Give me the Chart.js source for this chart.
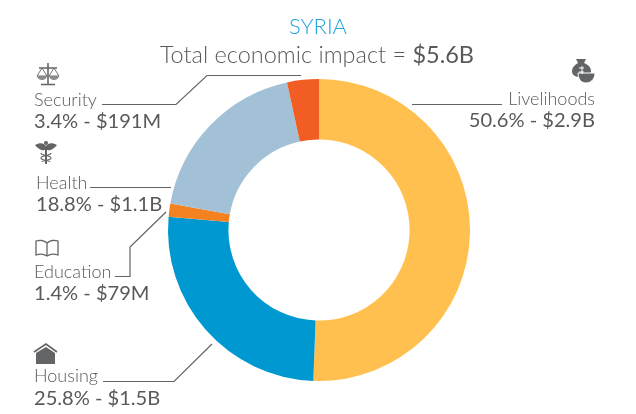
<!DOCTYPE html>
<html>
<head>
<meta charset="utf-8">
<script src="https://cdn.jsdelivr.net/npm/chart.js@4/dist/chart.umd.min.js"></script>
<style>
  html, body { margin:0; padding:0; background:#fff; }
  #wrap { position:relative; width:636px; height:414px; overflow:hidden; font-family:Lato, sans-serif; color:#58595B; }
  #chart { position:absolute; left:0; top:0; }
  #lines { position:absolute; left:0; top:0; }
  .t { position:absolute; white-space:nowrap; line-height:1; }
  .name { font-size:18px; font-weight:300; }
  .val { font-size:20.100px; font-weight:400; }
</style>
</head>
<body>
<div id="wrap">
  <canvas id="chart" width="636" height="414"></canvas>
  <svg id="lines" width="636" height="414" fill="none" stroke="#636466" stroke-width="1.200">
    <!-- leader lines -->
    <path d="M102 104.500H176L207 75.500H301"/>
    <path d="M90 187.500H171"/>
    <path d="M115 276.500H130V247L166 212"/>
    <path d="M103 381.500H174L212 344"/>
    <path d="M412 104.500H502"/>
    <!-- scales -->
    <path d="M48 63V84M41 84.500H55M39 68H57" stroke-width="1.600"/>
    <path d="M42 68L37 76H47ZM54 68L49 76H59Z" stroke-width="0.900"/>
    <path d="M37 76a5 4 0 0 0 10 0zM49 76a5 4 0 0 0 10 0z" fill="#8a8b8d" stroke="none"/>
    <!-- caduceus -->
    <g fill="#636466" stroke="none">
      <path d="M35 145C40 142 44 143 46 146C48 143 52 142 57 145C54 149 50 151 47.500 150H44.500C42 151 38 149 35 145Z"/>
      <circle cx="46" cy="143" r="2"/>
      <rect x="45" y="146" width="2" height="18"/>
    </g>
    <path d="M41 153C41 156 51 155 51 158C51 161 42 160 42 162" stroke-width="1.200"/>
    <path d="M51 153C51 156 41 155 41 158C41 161 50 160 50 162" stroke-width="1.200"/>
    <!-- book -->
    <path d="M47 243C44 240 39 240 36 241V255C39 254 44 254 47 256C50 254 55 254 58 255V241C55 240 50 240 47 243ZM47 243V256" stroke-width="1.300"/>
    <!-- house -->
    <path d="M34 352L46 344L57 352" stroke-width="1.600"/>
    <path d="M36 353L46 347L55 353V364H36Z" fill="#636466" stroke="none"/>
    <!-- money bag and bowl -->
    <g fill="#636466" stroke="none">
      <path d="M576 59H586L584 63C589 65 591 68 591 71C591 75 587 77 581 77C575 77 572 75 572 71C572 68 574 65 578 63Z"/>
      <path d="M578 73H595C595 80 590 83 586 83C582 83 578 80 578 73Z" stroke="#fff" stroke-width="1"/>
    </g>
    <path d="M582 66V74M579 68H584M579 72H584" stroke="#fff" stroke-width="1"/>
  </svg>
</div>
<script>
const categories = ['Livelihoods', 'Housing', 'Education', 'Health', 'Security'];
const shares     = [50.6, 25.8, 1.4, 18.8, 3.4];
const amounts    = ['$2.9B', '$1.5B', '$79M', '$1.1B', '$191M'];
const colors     = ['#FFC04F', '#0098D1', '#F58220', '#A3C1D6', '#F15D22'];

const wrap = document.getElementById('wrap');

function addText(str, cls, css) {
  const el = document.createElement('div');
  el.className = 't ' + cls;
  el.innerHTML = str;
  Object.assign(el.style, css);
  wrap.appendChild(el);
}

new Chart(document.getElementById('chart'), {
  type: 'doughnut',
  data: {
    labels: categories,
    datasets: [{ data: shares, backgroundColor: colors, borderWidth: 0 }],
  },
  options: {
    responsive: false,
    animation: false,
    cutout: '60%',
    layout: { padding: { left: 168, right: 166, top: 79, bottom: 33 } },
    plugins: { legend: { display: false }, tooltip: { enabled: false } },
  },
});

addText('SYRIA', '', { left: '0', width: '636px', textAlign: 'center', top: '15px', fontSize: '22px', fontWeight: '300', color: '#1FA3DC' });
addText('<span style="font-weight:300">Total economic impact = </span>$5.6B', '', { left: '0', width: '634px', textAlign: 'center', top: '43px', fontSize: '23.500px' });

// label blocks, left aligned except Livelihoods
const blocks = {
  Security:    { left: 34, nameTop: 90,  valTop: 110 },
  Health:      { left: 36, nameTop: 173, valTop: 193 },
  Education:   { left: 34, nameTop: 262, valTop: 282 },
  Housing:     { left: 34, nameTop: 366, valTop: 387 },
};
categories.forEach((c, i) => {
  const val = shares[i] + '% - ' + amounts[i];
  if (c === 'Livelihoods') {
    addText(c, 'name', { right: '41px', top: '89px' });
    addText(val, 'val', { right: '41px', top: '109px' });
    return;
  }
  const b = blocks[c];
  addText(c, 'name', { left: b.left + 'px', top: b.nameTop + 'px' });
  addText(val, 'val', { left: b.left + 'px', top: b.valTop + 'px' });
});
</script>
</body>
</html>
